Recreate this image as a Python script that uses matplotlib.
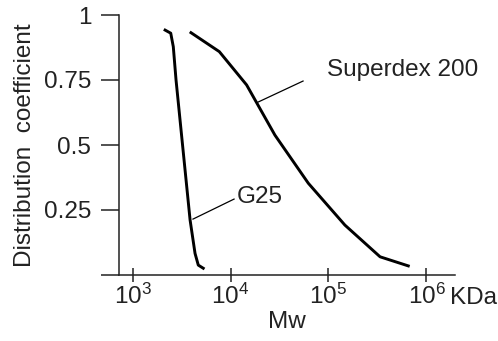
import matplotlib
matplotlib.use("Agg")
import matplotlib.pyplot as plt
from matplotlib.ticker import FixedLocator, FixedFormatter

plt.rcParams['font.family'] = ['Liberation Sans', 'DejaVu Sans']
plt.rcParams['mathtext.fontset'] = 'custom'
plt.rcParams['mathtext.rm'] = 'Liberation Sans'
plt.rcParams['mathtext.it'] = 'Liberation Sans'

# Data
g25_mw = [2150, 2455, 2607, 2780, 3177, 3866, 4345, 4690, 5270]
g25_kd = [0.942, 0.930, 0.878, 0.75, 0.532, 0.212, 0.083, 0.038, 0.026]

sdx_mw = [3950, 7690, 14600, 28400, 62200, 147000, 336000, 652000]
sdx_kd = [0.932, 0.859, 0.731, 0.538, 0.353, 0.192, 0.070, 0.035]

x_ticks = [1e3, 1e4, 1e5, 1e6]
x_tick_labels = [r'$10^{3}$', r'$10^{4}$', r'$10^{5}$', r'$10^{6}$']
y_ticks = [0, 0.25, 0.5, 0.75, 1]
y_tick_labels = ['', '0.25', '0.5', '0.75', '1']

fs = 17.5

fig = plt.figure(figsize=(4.98, 3.41), dpi=100)
ax = fig.add_axes([119/498, 1 - 275/341, (455 - 119)/498, 260/341])

ax.plot(g25_mw, g25_kd, color='black', lw=2.1, solid_joinstyle='round')
ax.plot(sdx_mw, sdx_kd, color='black', lw=2.1, solid_joinstyle='round')

ax.set_xscale('log')
ax.set_xlim(10**2.862, 10**6.291)
ax.set_ylim(0, 1)

ax.spines['top'].set_visible(False)
ax.spines['right'].set_visible(False)
for s in ['left', 'bottom']:
    ax.spines[s].set_linewidth(1.1)
    ax.spines[s].set_color('#222222')

ax.xaxis.set_major_locator(FixedLocator(x_ticks))
ax.xaxis.set_major_formatter(FixedFormatter(x_tick_labels))
ax.xaxis.set_minor_locator(FixedLocator([]))
ax.yaxis.set_major_locator(FixedLocator(y_ticks))
ax.yaxis.set_major_formatter(FixedFormatter(y_tick_labels))

ax.tick_params(axis='x', direction='inout', length=10, width=1.1, pad=1,
               labelsize=fs, colors='#222222')
ax.tick_params(axis='y', direction='out', length=13, width=1.1, pad=7,
               labelsize=fs, colors='#222222')

ax.set_ylabel('Distribution  coefficient', fontsize=fs, color='#222222', labelpad=6)
ax.set_xlabel('Mw', fontsize=fs, color='#222222', labelpad=2)

ax.text(0.984, -0.09, 'KDa', transform=ax.transAxes, fontsize=fs,
        color='#222222', ha='left', va='center')

# Annotations with leader lines
ax.plot([4140, 10870], [0.215, 0.292], color='black', lw=0.9)
ax.text(11650, 0.30, 'G25', fontsize=fs, color='#222222', ha='left', va='center')
ax.plot([19100, 55000], [0.665, 0.746], color='black', lw=0.9)
ax.text(96600, 0.788, 'Superdex 200', fontsize=fs, color='#222222',
        ha='left', va='center')

fig.savefig('out.png', dpi=100)
